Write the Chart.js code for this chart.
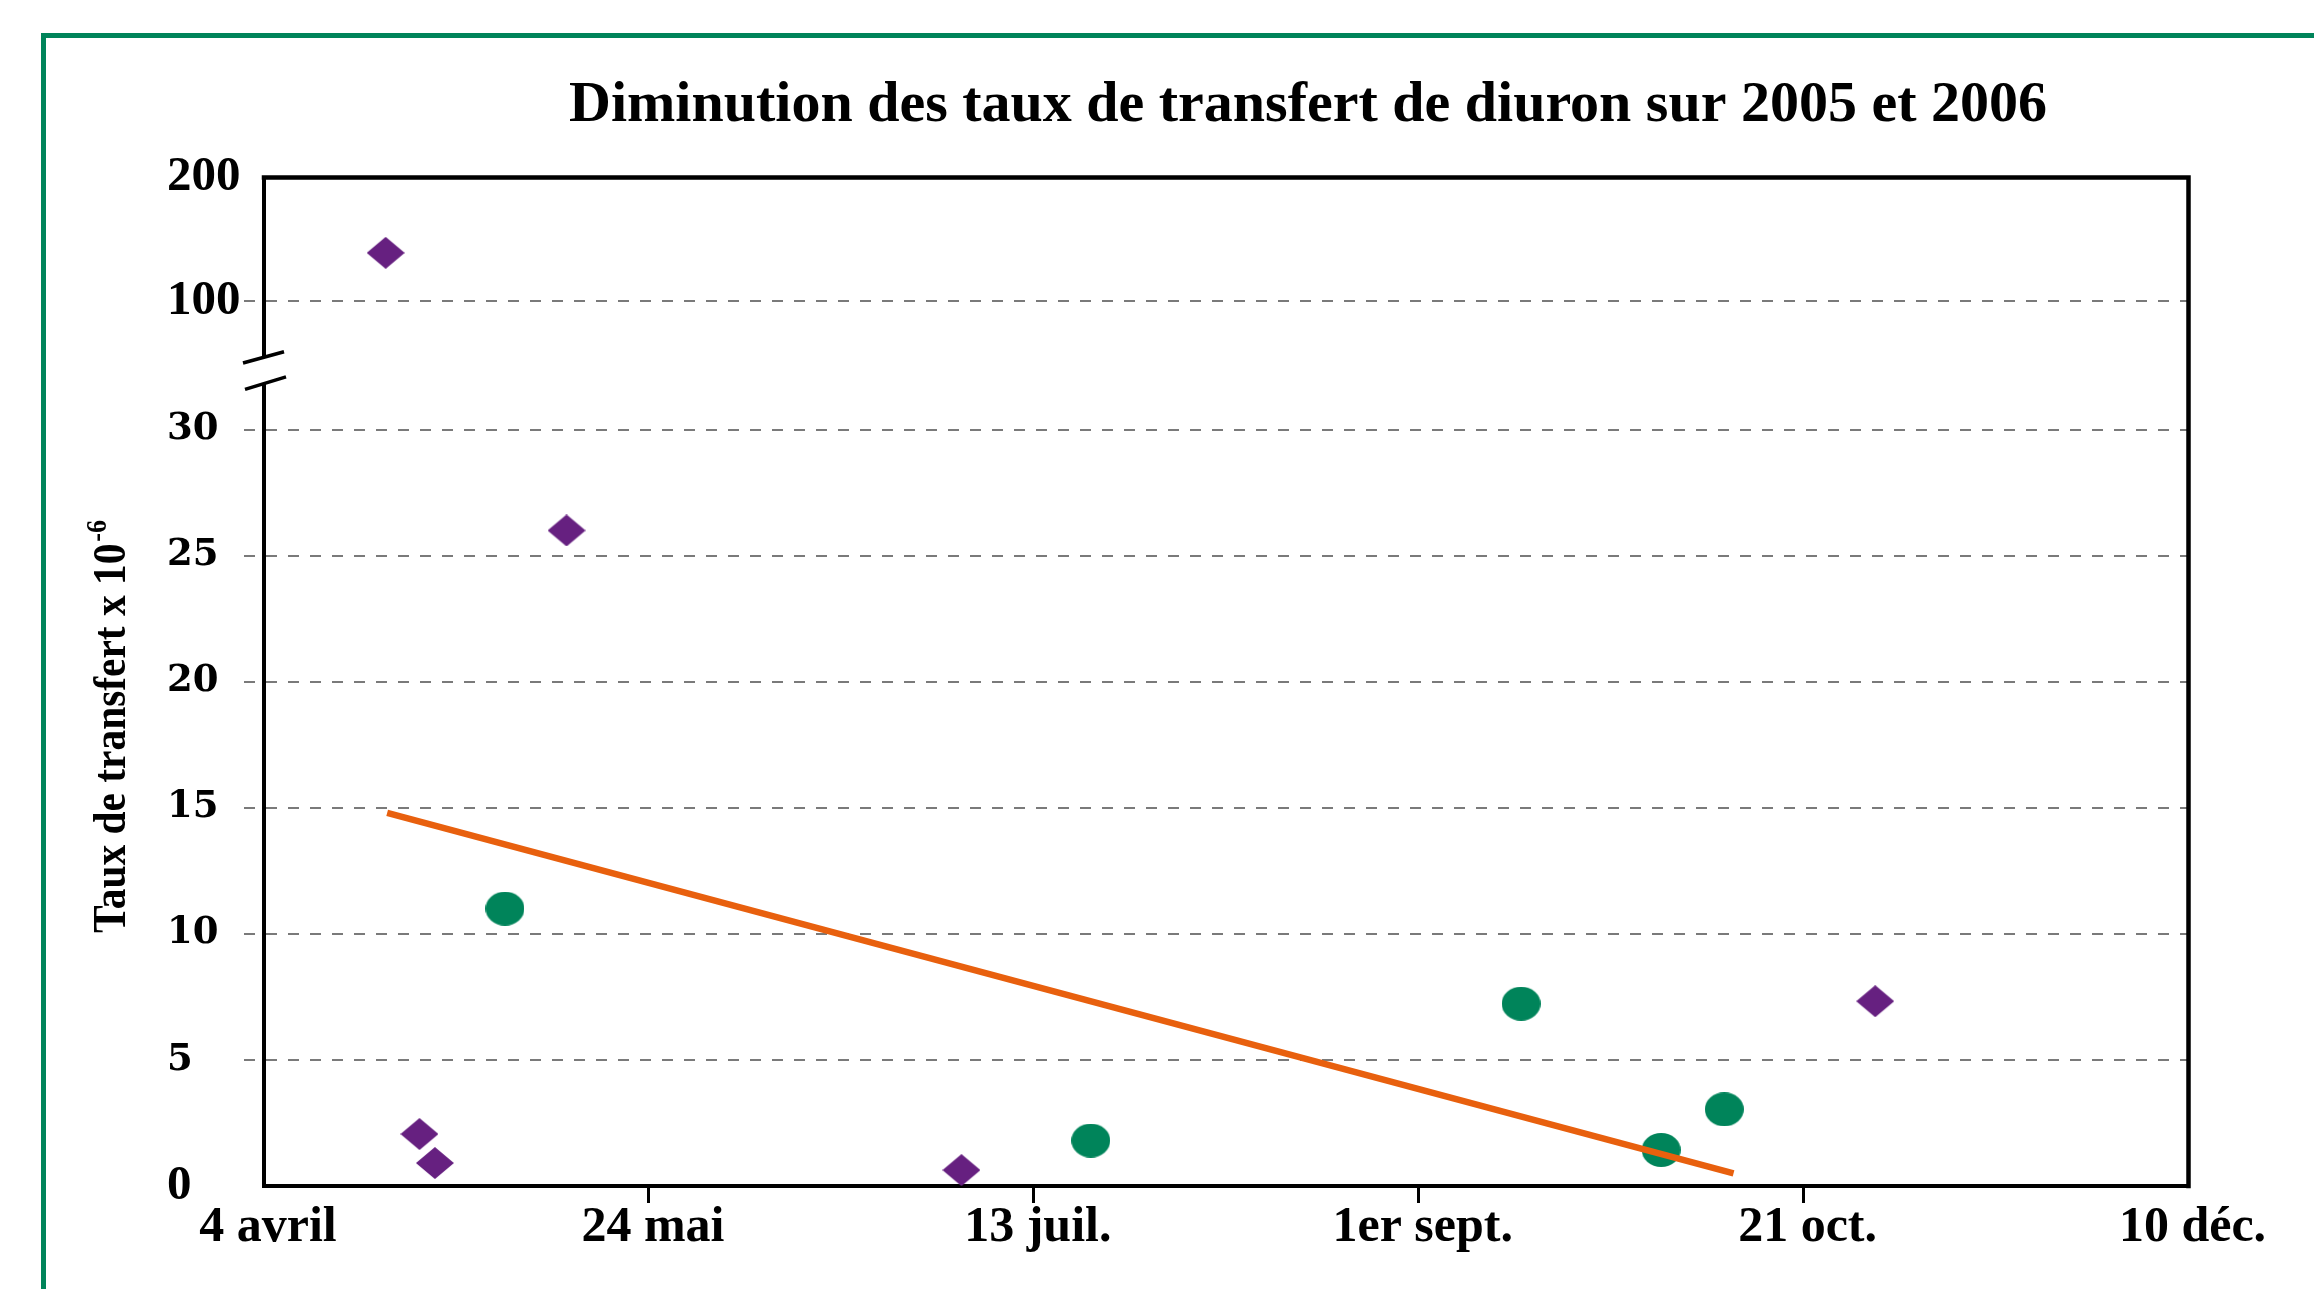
<!DOCTYPE html>
<html lang="fr">
<head>
<meta charset="utf-8">
<title>Diminution des taux de transfert de diuron sur 2005 et 2006</title>
<script src="https://cdn.jsdelivr.net/npm/chart.js@4.4.1/dist/chart.umd.min.js"></script>
<style>
  html, body { margin: 0; padding: 0; background: #ffffff; }
  #wrap { position: relative; width: 2314px; height: 1289px; }
</style>
</head>
<body>
<div id="wrap"><canvas id="chart"></canvas></div>
<script>
// ---- Data (x = days after 4 April) ----
const chartTitle = "Diminution des taux de transfert de diuron sur 2005 et 2006";
const yAxisTitle = "Taux de transfert x 10";
const yAxisTitleExp = "-6";

const xTickValues = [0, 50, 100, 150, 200, 250];
const xTickLabels = ["4 avril", "24 mai", "13 juil.", "1er sept.", "21 oct.", "10 déc."];

const yTickValues = [0, 5, 10, 15, 20, 25, 30, 100, 200];
const yTickLabels = ["0", "5", "10", "15", "20", "25", "30", "100", "200"];

const diamondDays   = [15.8, 20.2, 22.2, 39.3, 90.6, 209.3];
const diamondValues = [139, 2.06, 0.91, 26.0, 0.63, 7.33];

const circleDays    = [31.3, 107.4, 163.3, 181.5, 189.7];
const circleValues  = [11.0, 1.8, 7.23, 1.43, 3.04];

const trendDays     = [16.0, 190.9];
const trendValues   = [14.8, 0.5];

// ---- Broken y axis: 0-30 linear, break, 100-200 compressed ----
function toPos(v) {
  if (v <= 30) return v;
  if (v <= 100) return 30 + (v - 30) / 70 * 5.1;
  return 35.1 + (v - 100) / 100 * 4.9;
}
const BREAK_POS = 32.35;

function pts(days, vals) { return days.map((d, i) => ({ x: d, y: toPos(vals[i]) })); }

const PURPLE = '#662080';
const GREEN = '#00845A';
const ORANGE = '#E8600E';

function makeDiamond(w, h, color) {
  const c = document.createElement('canvas'); c.width = w; c.height = h;
  const g = c.getContext('2d'); g.fillStyle = color;
  g.beginPath(); g.moveTo(w / 2, 0); g.lineTo(w, h / 2); g.lineTo(w / 2, h); g.lineTo(0, h / 2); g.closePath(); g.fill();
  return c;
}
function makeEllipse(w, h, color) {
  const c = document.createElement('canvas'); c.width = w; c.height = h;
  const g = c.getContext('2d'); g.fillStyle = color;
  g.beginPath(); g.ellipse(w / 2, h / 2, w / 2, h / 2, 0, 0, Math.PI * 2); g.fill();
  return c;
}

const framePlugin = {
  id: 'framePlugin',
  beforeDraw(chart) {
    const ctx = chart.ctx;
    ctx.save();
    ctx.fillStyle = '#ffffff';
    ctx.fillRect(0, 0, chart.width, chart.height);
    ctx.fillStyle = GREEN;
    ctx.fillRect(41, 33, 5, chart.height - 33);
    ctx.fillRect(41, 33, chart.width - 41, 5);
    ctx.restore();
  },
  afterDraw(chart) {
    const ctx = chart.ctx;
    const a = chart.chartArea;
    const ys = chart.scales.y;
    ctx.save();
    // top and right frame of the plot area
    ctx.strokeStyle = '#000000';
    ctx.lineWidth = 4.5;
    ctx.lineCap = 'square';
    ctx.beginPath();
    ctx.moveTo(a.left, a.top);
    ctx.lineTo(a.right, a.top);
    ctx.lineTo(a.right, a.bottom);
    ctx.stroke();

    // axis break
    const yb = ys.getPixelForValue(BREAK_POS);
    ctx.fillStyle = '#ffffff';
    ctx.fillRect(a.left - 5, yb - 13, 10, 26);
    ctx.lineWidth = 3.5;
    ctx.lineCap = 'butt';
    ctx.beginPath();
    ctx.moveTo(a.left - 21, yb - 13 + 5.6); ctx.lineTo(a.left + 20, yb - 13 - 5.6);
    ctx.moveTo(a.left - 19, yb + 13 + 6); ctx.lineTo(a.left + 22, yb + 13 - 6.5);
    ctx.stroke();

    // main title
    ctx.fillStyle = '#000000';
    ctx.font = 'bold 58px "Liberation Serif", "Times New Roman", serif';
    ctx.textAlign = 'center';
    ctx.textBaseline = 'alphabetic';
    ctx.fillText(chartTitle, 1308, 121);

    // y axis title (rotated, slightly condensed) with superscript
    ctx.translate(125, 933);
    ctx.rotate(-Math.PI / 2);
    ctx.scale(0.9, 1);
    ctx.textAlign = 'left';
    ctx.font = 'bold 46px "Liberation Serif", "Times New Roman", serif';
    ctx.fillText(yAxisTitle, 0, 0);
    const w = ctx.measureText(yAxisTitle).width;
    ctx.font = 'bold 29px "Liberation Serif", "Times New Roman", serif';
    ctx.fillText(yAxisTitleExp, w + 2, -19);
    ctx.restore();
  }
};

const lastY = yTickValues.length - 1;
const lastX = xTickValues.length - 1;

new Chart(document.getElementById('chart'), {
  type: 'scatter',
  data: {
    datasets: [
      {
        type: 'line',
        label: 'Tendance',
        data: pts(trendDays, trendValues),
        borderColor: ORANGE,
        borderWidth: 6.5,
        pointRadius: 0,
        fill: false,
        order: 0
      },
      {
        label: '2005',
        data: pts(diamondDays, diamondValues),
        pointStyle: makeDiamond(38, 32, PURPLE),
        pointRadius: 10,
        backgroundColor: PURPLE,
        borderColor: PURPLE,
        order: 1
      },
      {
        label: '2006',
        data: pts(circleDays, circleValues),
        pointStyle: makeEllipse(39, 34, GREEN),
        pointRadius: 10,
        backgroundColor: GREEN,
        borderColor: GREEN,
        order: 2
      }
    ]
  },
  options: {
    responsive: true,
    maintainAspectRatio: false,
    animation: false,
    devicePixelRatio: 1,
    layout: { padding: { left: 167, top: 177.5, right: 125.5, bottom: 0 } },
    plugins: {
      legend: { display: false },
      tooltip: { enabled: false },
      title: { display: false }
    },
    scales: {
      x: {
        type: 'linear',
        position: 'bottom',
        min: 0,
        max: 250,
        afterBuildTicks: (s) => { s.ticks = xTickValues.map(v => ({ value: v })); },
        afterFit: (s) => { s.height = 103; },
        border: { display: true, color: '#000000', width: 4 },
        grid: {
          drawOnChartArea: false,
          drawTicks: true,
          tickLength: 17,
          tickWidth: 3,
          tickColor: (c) => (c.index === 0 || c.index === lastX) ? 'rgba(0,0,0,0)' : '#000000',
          color: 'rgba(0,0,0,0)'
        },
        ticks: {
          padding: 0,
          labelOffset: 4,
          maxRotation: 0,
          autoSkip: false,
          color: '#000000',
          font: { family: '"Liberation Serif", "Times New Roman", serif', size: 50, weight: 'bold', lineHeight: 1 },
          callback: (v, i) => xTickLabels[i]
        }
      },
      y: {
        type: 'linear',
        position: 'left',
        min: 0,
        max: 40,
        afterBuildTicks: (s) => { s.ticks = yTickValues.map(v => ({ value: toPos(v) })); },
        afterFit: (s) => { s.width = 97; },
        border: { display: true, color: '#000000', width: 4, dash: [11, 11] },
        grid: {
          drawOnChartArea: true,
          drawTicks: true,
          tickLength: 20,
          lineWidth: 2,
          tickWidth: 2,
          tickBorderDash: [11, 11],
          color: (c) => (c.index === 0 || c.index === lastY) ? 'rgba(0,0,0,0)' : '#7a7a7a',
          tickColor: (c) => (c.index === 0 || c.index === lastY) ? 'rgba(0,0,0,0)' : '#7a7a7a'
        },
        ticks: {
          padding: 4,
          crossAlign: 'far',
          autoSkip: false,
          color: '#000000',
          font: (c) => {
            const i = c.index;
            if (i === 0 || i >= 7) {
              return { family: '"Liberation Serif", "Times New Roman", serif', size: 49, weight: 'bold', lineHeight: 1.2 };
            }
            return { family: '"DejaVu Serif", serif', size: 37, weight: 'bold', lineHeight: 1.2 };
          },
          callback: (v, i) => yTickLabels[i]
        }
      }
    }
  },
  plugins: [framePlugin]
});
</script>
</body>
</html>
